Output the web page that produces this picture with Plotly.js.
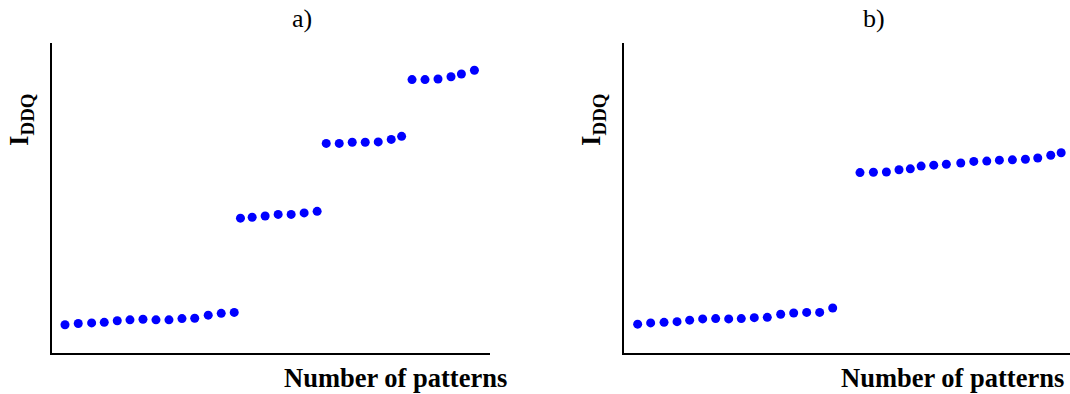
<!DOCTYPE html>
<html>
<head>
<meta charset="utf-8">
<script src="https://cdn.plot.ly/plotly-3.0.1.min.js"></script>
<style>html,body{margin:0;padding:0;background:#fff}#chart{width:1070px;height:394px}</style>
</head>
<body>
<div id="chart"></div>
<script>
// Panel a) : pattern number vs IDDQ (arbitrary units)
const patternsA = [1.0,2.02,3.05,4.02,5.02,6.0,7.0,8.0,9.0,10.0,10.98,12.02,13.02,14.02,
  14.5,15.4,16.4,17.4,18.4,19.4,20.4,
  21.1,22.1,23.1,24.1,25.1,26.1,26.9,
  27.7,28.7,29.7,30.7,31.5,32.5];
const iddqA = [9.1,9.5,9.7,9.9,10.4,10.7,10.9,10.7,10.7,11.1,11.2,12.2,12.8,13.1,
  43.5,43.8,44.2,44.7,44.7,45.2,45.7,
  67.6,67.6,68.0,68.0,68.1,68.9,69.9,
  88.2,88.2,88.4,89.1,90.0,91.2];
// Panel b)
const patternsB = [1.05,2.05,3.08,4.08,5.05,6.05,7.05,8.05,9.02,10.02,11.02,12.05,13.05,14.05,15.05,16.05,
  18.15,19.18,20.18,21.15,22.02,22.85,23.82,24.79,25.9,26.9,27.9,28.87,29.87,30.87,31.82,32.82,33.62];
const iddqB = [9.3,9.7,9.9,10.1,10.6,11.0,11.1,11.0,11.1,11.4,11.5,12.5,12.9,13.1,13.1,14.5,
  58.2,58.3,58.4,59.1,59.4,60.3,60.6,60.9,61.3,61.8,61.9,62.2,62.3,62.5,62.9,63.8,64.6];
const panelTitles = ["a)", "b)"];
const xTitle = "Number of patterns";
const yTitle = "I<sub>DDQ</sub>";

const W = 1070, H = 394;
const px = v => v / W;
const py = v => (H - v) / H;

const marker = {color: '#0000ff', size: 9};
const traces = [
  {x: patternsA, y: iddqA, type: 'scatter', mode: 'markers', marker, xaxis: 'x', yaxis: 'y', hoverinfo: 'skip'},
  {x: patternsB, y: iddqB, type: 'scatter', mode: 'markers', marker, xaxis: 'x2', yaxis: 'y2', hoverinfo: 'skip'}
];

const axBase = {showgrid: false, zeroline: false, showticklabels: false, ticks: '',
  showline: true, linecolor: '#000', linewidth: 2, fixedrange: true};
const yDom = [py(353), py(43)];
const serif = 'Liberation Serif';

const layout = {
  width: W, height: H,
  margin: {l: 0, r: 0, t: 0, b: 0},
  paper_bgcolor: '#fff', plot_bgcolor: '#fff',
  showlegend: false,
  xaxis: Object.assign({}, axBase, {domain: [px(52), px(490)], range: [0, 33.7], anchor: 'y'}),
  yaxis: Object.assign({}, axBase, {domain: yDom, range: [0, 100], anchor: 'x'}),
  xaxis2: Object.assign({}, axBase, {domain: [px(624), 1], range: [0, 34.3], anchor: 'y2'}),
  yaxis2: Object.assign({}, axBase, {domain: yDom, range: [0, 100], anchor: 'x2'}),
  annotations: [
    {text: panelTitles[0], x: px(302), y: py(19), xref: 'paper', yref: 'paper', showarrow: false,
     xanchor: 'center', yanchor: 'middle', font: {family: serif, size: 26, color: '#000'}},
    {text: panelTitles[1], x: px(874), y: py(19), xref: 'paper', yref: 'paper', showarrow: false,
     xanchor: 'center', yanchor: 'middle', font: {family: serif, size: 26, color: '#000'}},
    {text: '<b>' + xTitle + '</b>', x: px(395.5), y: py(378), xref: 'paper', yref: 'paper', showarrow: false,
     xanchor: 'center', yanchor: 'middle', font: {family: serif, size: 26.5, color: '#000'}},
    {text: '<b>' + xTitle + '</b>', x: px(952), y: py(378), xref: 'paper', yref: 'paper', showarrow: false,
     xanchor: 'center', yanchor: 'middle', font: {family: serif, size: 26.5, color: '#000'}},
    {text: '<b>' + yTitle + '</b>', x: px(21), y: py(120), xref: 'paper', yref: 'paper', showarrow: false,
     textangle: -90, xanchor: 'center', yanchor: 'middle', font: {family: serif, size: 27, color: '#000'}},
    {text: '<b>' + yTitle + '</b>', x: px(593), y: py(120), xref: 'paper', yref: 'paper', showarrow: false,
     textangle: -90, xanchor: 'center', yanchor: 'middle', font: {family: serif, size: 27, color: '#000'}}
  ]
};

Plotly.newPlot('chart', traces, layout, {staticPlot: true, displayModeBar: false});
</script>
</body>
</html>
